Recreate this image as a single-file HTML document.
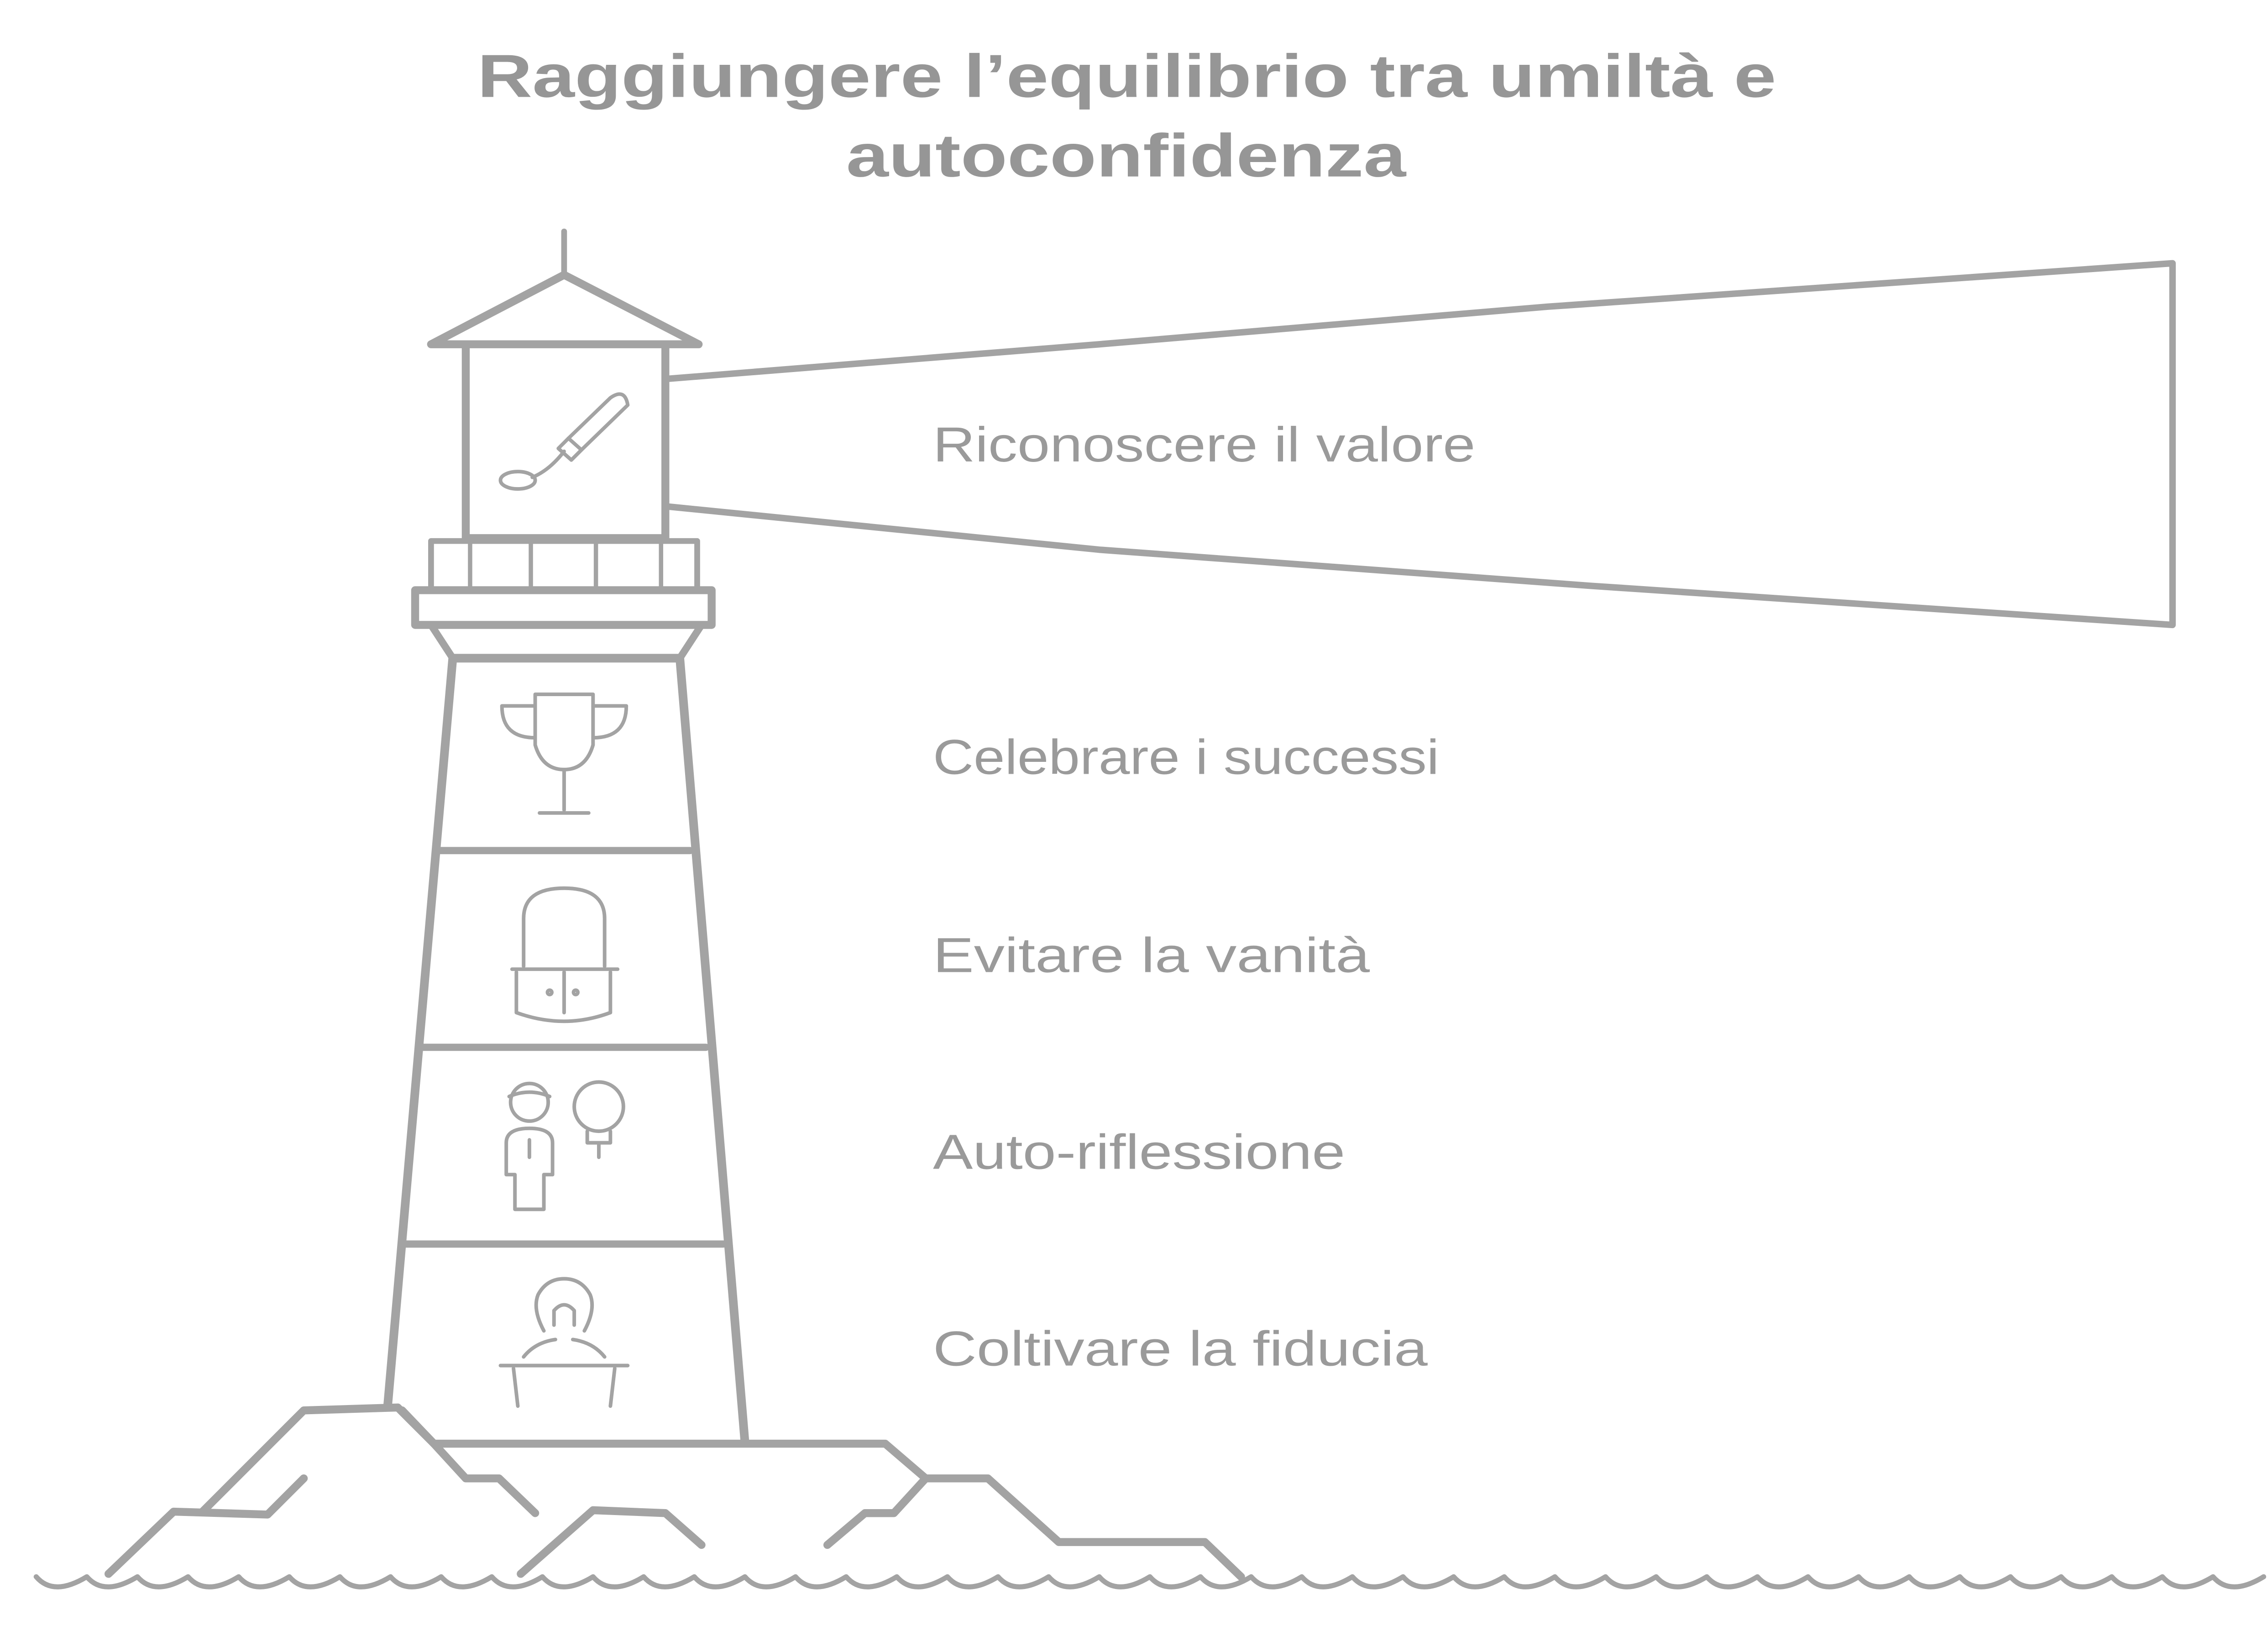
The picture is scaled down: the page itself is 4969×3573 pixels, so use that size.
<!DOCTYPE html>
<html><head><meta charset="utf-8"><style>
html,body{margin:0;padding:0;background:#fff;}
svg{display:block;}
text{font-family:"Liberation Sans",sans-serif;fill:#9a9a9a;}
</style></head><body>
<svg width="4969" height="3573" viewBox="0 0 1568 1127.5" xmlns="http://www.w3.org/2000/svg">
<text x="330" y="67" font-size="42" font-weight="bold" textLength="898" lengthAdjust="spacingAndGlyphs" style="fill:#969696">Raggiungere l’equilibrio tra umiltà e</text>
<text x="585" y="122" font-size="42" font-weight="bold" textLength="387" lengthAdjust="spacingAndGlyphs" style="fill:#969696">autoconfidenza</text>

<g fill="none" stroke="#a3a3a3" stroke-linecap="round" stroke-linejoin="round">
<path d="M460 262 L760 238 L1070 212 L1502 182 L1502 432 L1100 405 L760 380 L460 350" stroke-width="4.5"/>
<path d="M390 160 L390 190" stroke-width="4"/>
<path d="M298 238 L390 190 L483 238 Z" stroke-width="5.5"/>
<path d="M322 240 L322 372 M460 240 L460 372 M322 372 L460 372" stroke-width="5.5"/>
<rect x="298" y="374" width="184" height="34" stroke-width="4"/>
<path d="M325 374 V408 M367 374 V408 M412 374 V408 M457 374 V408" stroke-width="3"/>
<rect x="287" y="408" width="205" height="24" stroke-width="5.5"/>
<path d="M298 432 L313 455 L470 455 L485 432" stroke-width="5"/>
<path d="M313 455 L470 455" stroke-width="6"/>
<path d="M313 455 L268 972" stroke-width="6"/>
<path d="M470 455 L515 997" stroke-width="6"/>
<path d="M302 588 L477 588 M290 724 L488 724 M280 860 L500 860" stroke-width="5"/>
<g stroke-width="5.5">
<path d="M75 1088 L120 1045 L185 1047 L210 1022"/>
<path d="M140 1045 L210 975 L275 973 L300 998 L322 1022 L345 1022 L370 1046"/>
<path d="M278 975 L300 998 L612 998 L640 1022 L618 1046 L598 1046 L572 1068"/>
<path d="M640 1022 L683 1022 L732 1066 L833 1066 L858 1090"/>
<path d="M360 1088 L410 1044 L460 1046 L485 1068"/>
</g>
<path stroke-width="3.5" d="M25 1090 q12 14 35 0 q12 14 35 0 q12 14 35 0 q12 14 35 0 q12 14 35 0 q12 14 35 0 q12 14 35 0 q12 14 35 0 q12 14 35 0 q12 14 35 0 q12 14 35 0 q12 14 35 0 q12 14 35 0 q12 14 35 0 q12 14 35 0 q12 14 35 0 q12 14 35 0 q12 14 35 0 q12 14 35 0 q12 14 35 0 q12 14 35 0 q12 14 35 0 q12 14 35 0 q12 14 35 0 q12 14 35 0 q12 14 35 0 q12 14 35 0 q12 14 35 0 q12 14 35 0 q12 14 35 0 q12 14 35 0 q12 14 35 0 q12 14 35 0 q12 14 35 0 q12 14 35 0 q12 14 35 0 q12 14 35 0 q12 14 35 0 q12 14 35 0 q12 14 35 0 q12 14 35 0 q12 14 35 0 q12 14 35 0 q12 14 35 0"/>

<g stroke-width="2.5">
<ellipse cx="358" cy="332" rx="12" ry="6"/>
<path d="M368 330 Q380 325 390 312"/>
<path d="M386 310 L395 318 L402 311 L393 303 Z"/>
<path d="M393 303 L422 275 Q432 268 434 280 L402 311"/>
<path d="M370 480 L410 480 L410 515 Q405 532 390 532 Q375 532 370 515 Z"/>
<path d="M370 488 L347 488 Q347 510 370 510 M410 488 L433 488 Q433 510 410 510"/>
<path d="M390 532 L390 560 M373 562 L407 562"/>
<path d="M362 668 L362 635 Q362 614 390 614 Q418 614 418 635 L418 668"/>
<path d="M354 670 L427 670 M357 672 L357 700 M422 672 L422 700 M390 672 L390 700 M357 700 Q390 712 422 700"/>
<circle cx="380" cy="686" r="1.5"/><circle cx="398" cy="686" r="1.5"/>
<circle cx="366" cy="762" r="13"/>
<path d="M352 758 Q366 752 380 758"/>
<path d="M350 790 Q350 780 366 780 Q382 780 382 790 L382 812 L376 812 L376 836 L356 836 L356 812 L350 812 Z M366 788 V800"/>
<circle cx="414" cy="765" r="17"/>
<path d="M406 782 L406 790 L422 790 L422 782 M414 790 V800"/>
<path d="M376 920 Q368 905 372 895 Q378 884 390 884 Q402 884 408 895 Q412 905 404 920"/>
<path d="M383 906 Q390 898 397 906 L397 916 M383 906 L383 916"/>
<path d="M362 938 Q370 928 384 926 M418 938 Q410 928 396 926"/>
<path d="M346 944 L434 944 M355 946 L358 972 M425 946 L422 972"/>
</g>
</g>

<g font-size="34">
<text x="645" y="319" textLength="375" lengthAdjust="spacingAndGlyphs">Riconoscere il valore</text>
<text x="645" y="535" textLength="350" lengthAdjust="spacingAndGlyphs">Celebrare i successi</text>
<text x="645" y="672" textLength="302" lengthAdjust="spacingAndGlyphs">Evitare la vanità</text>
<text x="645" y="808" textLength="285" lengthAdjust="spacingAndGlyphs">Auto-riflessione</text>
<text x="645" y="944" textLength="342" lengthAdjust="spacingAndGlyphs">Coltivare la fiducia</text>
</g>
</svg>
</body></html>
